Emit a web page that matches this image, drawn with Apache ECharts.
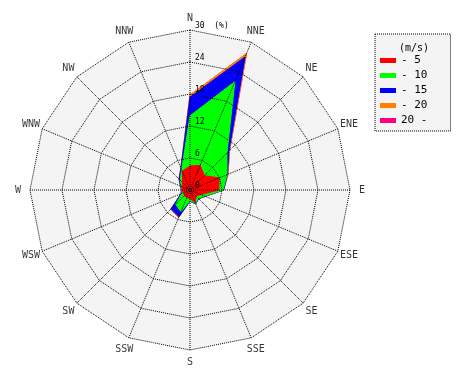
<!DOCTYPE html>
<html>
<head>
<meta charset="utf-8">
<script src="https://cdn.jsdelivr.net/npm/echarts@6/dist/echarts.min.js"></script>
<style>
  html, body { margin: 0; padding: 0; background: #ffffff; }
  #chart { width: 470px; height: 380px; }
</style>
</head>
<body>
<div id="chart"></div>
<script>
// Directions, clockwise from north
const directions = ['N','NNE','NE','ENE','E','ESE','SE','SSE','S','SSW','SW','WSW','W','WNW','NW','NNW'];
// Frequency (%) for each wind-speed class, per direction
const speedUpTo5   = [4.5, 5.0, 3.8, 5.9, 5.4, 2.2, 1.6, 2.5, 1.6, 1.5, 1.5, 1.3, 1.5, 1.6, 2.0, 3.8];
const speed5to10   = [9.4, 17.0, 6.0, 1.6, 0.8, 0.8, 0.6, 0.2, 0.4, 2.9, 2.3, 0.3, 0.0, 0.1, 0.6, 0.3];
const speed10to15  = [3.5, 5.0, 0.5, 0.1, 0.1, 0.1, 0.1, 0.1, 0.1, 1.0, 1.2, 0.2, 0.1, 0.2, 0.3, 0.3];
const speed15to20  = [0.4, 0.7, 0.2, 0.1, 0.0, 0.0, 0.0, 0.0, 0.0, 0.2, 0.1, 0.0, 0.0, 0.0, 0.0, 0.1];
const speedOver20  = [0.0, 0.0, 0.0, 0.0, 0.0, 0.0, 0.0, 0.0, 0.0, 0.0, 0.0, 0.0, 0.0, 0.0, 0.0, 0.0];
const classNames   = ['- 5', '- 10', '- 15', '- 20', '20 -'];
const classColors  = ['#ff0000', '#00ff00', '#0000ff', '#ff8000', '#ff0080'];
const radiusTicks  = [0, 6, 12, 18, 24, 30];

const classes = [speedUpTo5, speed5to10, speed10to15, speed15to20, speedOver20];
// cumulative (stacked) totals
const cumulative = [];
classes.forEach(function (arr, k) {
  cumulative.push(arr.map(function (v, i) { return (k ? cumulative[k - 1][i] : 0) + v; }));
});

// ECharts radar lays indicators out counter-clockwise; reorder so the picture runs clockwise
const order = [0];
for (let i = directions.length - 1; i >= 1; i--) order.push(i);

const mono = 'DejaVu Sans Mono';
const rMax = radiusTicks[radiusTicks.length - 1];
const step = 360 / directions.length;
const indicator = order.map(function (i) { return { name: directions[i], min: 0, max: rMax }; });

const series = [];
for (let k = classes.length - 1; k >= 0; k--) {
  series.push({
    type: 'radar',
    radarIndex: 0,
    name: classNames[k],
    symbol: 'none',
    silent: true,
    z: 2 + (classes.length - k),
    itemStyle: { color: classColors[k] },
    lineStyle: { color: classColors[k], width: 1 },
    areaStyle: { color: classColors[k], opacity: 1 },
    data: [{ value: order.map(function (i) { return cumulative[k][i]; }), name: classNames[k] }]
  });
}
// direction labels, placed just outside the outer ring through the polar scales
series.push({
  type: 'scatter',
  coordinateSystem: 'polar',
  symbol: 'circle',
  symbolSize: 1,
  clip: false,
  silent: true,
  z: 20,
  itemStyle: { color: 'rgba(0,0,0,0)' },
  label: {
    show: true, position: 'inside', offset: [0, 2], color: '#000', fontFamily: mono, fontSize: 10,
    formatter: function (p) { return p.data[2]; }
  },
  labelLayout: { hideOverlap: false },
  data: directions.map(function (d, i) { return [rMax * 1.075, i * step, d]; })
});

const ringStyle = { color: '#000', width: 1, type: 'dotted' };
const baseRadar = {
  center: [190, 190],
  radius: 160,
  startAngle: 90,
  shape: 'polygon',
  splitNumber: radiusTicks.length - 1,
  indicator: indicator,
  axisName: { show: false },
  axisLine: { show: false },
  axisTick: { show: false },
  axisLabel: { show: false }
};

const chart = echarts.init(document.getElementById('chart'), null, { renderer: 'canvas' });
chart.setOption({
  animation: false,
  backgroundColor: '#ffffff',
  title: {
    text: '(m/s)',
    left: 394, top: 38,
    textStyle: { fontFamily: mono, fontSize: 10, fontWeight: 'normal', color: '#000' }
  },
  legend: {
    orient: 'vertical',
    left: 375, top: 34,
    data: classNames,
    icon: 'rect',
    itemWidth: 16, itemHeight: 5, itemGap: 4,
    padding: [21, 23, 5, 5],
    backgroundColor: '#f4f4f4',
    borderColor: '#000', borderWidth: 1, borderType: 'dotted',
    textStyle: { fontFamily: mono, fontSize: 11, color: '#000' },
    selectedMode: false
  },
  radar: [
    Object.assign({}, baseRadar, {
      z: 0,
      splitLine: { show: false },
      splitArea: { show: true, areaStyle: { color: ['#f4f4f4'] } }
    }),
    Object.assign({}, baseRadar, {
      z: 12,
      splitLine: { show: true, lineStyle: ringStyle },
      splitArea: { show: false }
    })
  ],
  polar: { center: [190, 190], radius: 160 },
  angleAxis: {
    type: 'value', min: 0, max: 360, interval: step, startAngle: 90, clockwise: true,
    z: 12,
    axisLine: { show: false }, axisTick: { show: false }, axisLabel: { show: false },
    splitLine: { show: true, lineStyle: ringStyle }
  },
  radiusAxis: {
    type: 'value', min: 0, max: rMax, interval: radiusTicks[1] - radiusTicks[0],
    z: 15,
    axisLine: { show: false }, axisTick: { show: false }, splitLine: { show: false },
    axisLabel: {
      show: true, color: '#000', fontFamily: mono, fontSize: 8,
      margin: -5, align: 'left', verticalAlign: 'bottom',
      formatter: function (v) { return v === rMax ? v + '  (%)' : String(v); }
    }
  },
  series: series
});
</script>
</body>
</html>
